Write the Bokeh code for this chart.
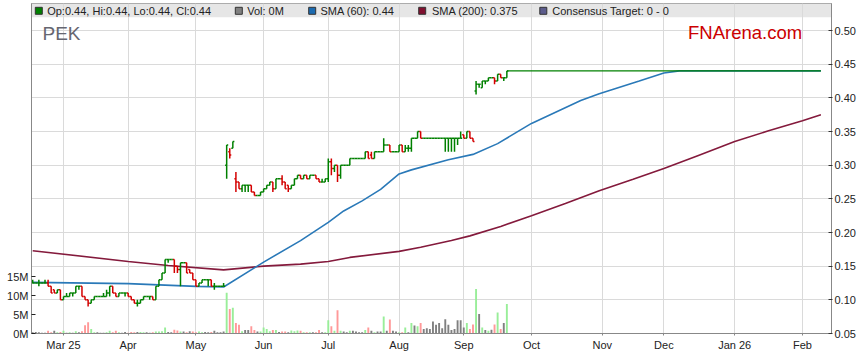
import numpy as np
import pandas as pd
from bokeh.plotting import figure
from bokeh.models import (Range1d, LinearAxis, FixedTicker, ColumnDataSource,
                          Label, PrintfTickFormatter)
from bokeh.embed import file_html
from bokeh.resources import INLINE

# ---------------- data ----------------
calendar = pd.bdate_range("2025-02-17", "2026-02-27")   # trading-day axis (weekdays)

opens = [
    .125, .125, .125, .125, .125, .125, .12, .115, .11, .115,
    .10, .105, .105, .11, .11, .12, .12, .105, .10, .095,
    .10, .105, .105, .105, .105, .11, .12, .11, .105, .11,
    .11, .11, .105, .10, .095, .095, .10, .105, .105, .105,
    .10, .12, .13, .14, .16, .16, .16, .15, .145, .155,
    .155, .145, .14, .13, .12, .125, .13, .13, .13, .12,
    .12, .12, .12, .30, .32, .325, .28, .275, .265, .27,
    .27, .27, .26, .255, .255, .26, .265, .27, .275, .265,
    .28, .28, .275, .27, .265, .27, .28, .285, .28, .285,
    .28, .285, .285, .28, .275, .275, .28, .305, .295, .30,
    .285, .30, .30, .30, .31, .31, .31, .31, .31, .32,
    .315, .31, .32, .32, .32, .33, .33, .32, .32, .32,
    .33, .32, .325, .325, .34, .34, .35, .34, .34, .34,
    .34, .34, .34, .34, .34, .34, .34, .34, .34, .34,
    .345, .34, .35, .34, .41, .42, .415, .425, .425, .43,
    .43, .425, .435, .43, .43]
highs = [
    .13, .125, .13, .125, .13, .13, .12, .115, .115, .115,
    .105, .11, .11, .11, .12, .12, .12, .105, .10, .10,
    .105, .105, .105, .11, .115, .12, .12, .11, .11, .11,
    .11, .11, .105, .10, .10, .10, .105, .105, .105, .105,
    .12, .13, .14, .16, .16, .16, .16, .15, .155, .155,
    .155, .145, .14, .13, .125, .13, .13, .13, .13, .125,
    .12, .12, .125, .33, .325, .335, .29, .275, .27, .27,
    .27, .27, .26, .255, .26, .265, .27, .275, .275, .28,
    .28, .285, .275, .27, .27, .28, .285, .285, .285, .285,
    .285, .285, .285, .28, .28, .28, .31, .31, .30, .30,
    .30, .30, .30, .31, .31, .31, .31, .31, .32, .32,
    .32, .32, .32, .32, .34, .33, .33, .32, .32, .33,
    .33, .33, .33, .34, .34, .35, .35, .34, .34, .34,
    .34, .34, .34, .34, .34, .34, .34, .34, .34, .35,
    .345, .35, .35, .34, .425, .42, .425, .425, .43, .43,
    .43, .435, .435, .43, .44]
lows = [
    .125, .125, .12, .125, .125, .12, .11, .11, .11, .10,
    .10, .105, .105, .105, .11, .115, .105, .10, .09, .095,
    .10, .105, .105, .105, .105, .105, .11, .105, .105, .11,
    .105, .105, .10, .095, .09, .095, .10, .105, .10, .10,
    .10, .12, .13, .14, .155, .16, .14, .14, .12, .155,
    .14, .14, .13, .12, .12, .125, .13, .12, .12, .115,
    .12, .12, .12, .28, .31, .325, .26, .265, .26, .26,
    .26, .26, .255, .255, .255, .26, .265, .27, .26, .265,
    .28, .27, .265, .26, .265, .27, .28, .28, .28, .28,
    .28, .285, .28, .275, .275, .275, .275, .285, .29, .275,
    .28, .30, .30, .30, .31, .31, .31, .31, .31, .31,
    .31, .31, .32, .32, .32, .33, .32, .32, .32, .32,
    .32, .32, .32, .32, .34, .34, .34, .34, .34, .34,
    .34, .34, .34, .34, .32, .32, .32, .32, .33, .34,
    .34, .34, .34, .335, .405, .415, .415, .42, .425, .43,
    .42, .425, .43, .425, .43]
closes = [
    .125, .125, .125, .125, .125, .12, .11, .11, .115, .10,
    .105, .105, .11, .11, .12, .12, .105, .10, .095, .10,
    .105, .105, .105, .105, .11, .12, .11, .105, .11, .11,
    .11, .105, .10, .095, .095, .10, .105, .105, .105, .10,
    .12, .13, .14, .16, .16, .16, .15, .145, .155, .155,
    .14, .14, .13, .12, .125, .13, .13, .13, .12, .12,
    .12, .12, .12, .33, .315, .335, .275, .265, .27, .27,
    .27, .26, .255, .255, .26, .265, .27, .275, .265, .28,
    .28, .275, .265, .265, .27, .28, .285, .28, .285, .28,
    .285, .285, .28, .275, .275, .28, .305, .295, .30, .285,
    .30, .30, .30, .31, .31, .31, .31, .31, .32, .31,
    .31, .32, .32, .32, .33, .33, .32, .32, .32, .33,
    .32, .325, .325, .34, .34, .35, .34, .34, .34, .34,
    .34, .34, .34, .34, .34, .34, .34, .34, .34, .34,
    .34, .35, .34, .335, .42, .42, .425, .425, .43, .43,
    .425, .435, .43, .43, .44]
volumes_m = [
    .3, .4, .3, .2, .2, .7, .3, .7, .3, .4,
    .7, .2, .3, .2, .6, .3, .6, 2.2, 3.0, 1.2,
    .3, .3, .2, .2, .3, .7, .3, .7, .3, .2,
    .4, .2, .4, .3, .4, .4, .3, .3, .2, .3,
    .5, .5, .6, 1.6, .4, .3, 1.0, .8, .5, .5,
    .3, .6, .5, .3, .5, .3, .4, .3, .4, .7,
    .3, .3, .5, 10.8, 6.5, 6.8, 2.8, 2.3, .6, .9,
    .9, 1.9, .9, .5, .5, 1.6, 1.2, .6, .9, .9,
    .4, .5, .5, .3, .8, .6, .8, .7, .3, .3,
    .3, .3, .3, .9, .3, .3, 3.5, 1.9, .7, 6.2,
    .7, .5, .3, .7, .7, .5, .3, .3, .9, 1.6,
    .7, .3, .5, .5, 4.5, .7, 3.7, .7, .5, .3,
    .3, 1.6, .3, 2.8, 2.1, 1.9, 2.8, 1.2, 1.4, 1.2,
    3.2, 2.3, 2.8, 1.4, 3.8, 2.3, .9, 1.2, 3.5, 3.5,
    1.6, 2.8, 1.2, 2.4, 11.8, 5.2, 1.6, .9, .7, 1.0,
    2.4, 5.6, 1.2, 2.8, 7.8]

sma60_dates = ["2025-02-17", "2025-04-01", "2025-05-01", "2025-05-14", "2025-06-02",
               "2025-06-18", "2025-07-01", "2025-07-08", "2025-07-16", "2025-07-24",
               "2025-08-01", "2025-08-07", "2025-08-25", "2025-09-04", "2025-09-16",
               "2025-10-01", "2025-10-23", "2025-10-31", "2025-11-19", "2025-12-01",
               "2025-12-08", "2026-02-10"]
sma60_vals = [0.126, 0.124, 0.120, 0.119, 0.156, 0.188, 0.215, 0.232, 0.247, 0.264,
              0.287, 0.293, 0.308, 0.316, 0.332, 0.362, 0.396, 0.406, 0.425, 0.437,
              0.440, 0.440]
sma200_dates = ["2025-02-17", "2025-04-01", "2025-04-18", "2025-05-14", "2025-06-02",
                "2025-06-18", "2025-07-01", "2025-07-10", "2025-08-01", "2025-08-12",
                "2025-08-26", "2025-09-03", "2025-09-17", "2025-10-01", "2025-10-16",
                "2025-10-31", "2025-11-17", "2025-12-01", "2025-12-16", "2026-01-01",
                "2026-01-16", "2026-02-02", "2026-02-10"]
sma200_vals = [0.173, 0.157, 0.151, 0.1445, 0.150, 0.153, 0.157, 0.163, 0.172, 0.178,
               0.188, 0.195, 0.209, 0.225, 0.243, 0.262, 0.279, 0.295, 0.314, 0.335,
               0.351, 0.366, 0.375]
proj_dates = ["2025-09-19", "2026-02-10"]
proj_vals = [0.44, 0.44]

price_ticks = [0.05, 0.10, 0.15, 0.20, 0.25, 0.30, 0.35, 0.40, 0.45, 0.50]
vol_ticks = [0, 5, 10, 15]
vol_tick_labels = ["0M", "5M", "10M", "15M"]
month_keys = ["2025-03", "2025-04", "2025-05", "2025-06", "2025-07", "2025-08",
              "2025-09", "2025-10", "2025-11", "2025-12", "2026-01", "2026-02"]
month_labels = ["Mar 25", "Apr", "May", "Jun", "Jul", "Aug", "Sep", "Oct", "Nov",
                "Dec", "Jan 26", "Feb"]
legend_texts = ["Op:0.44, Hi:0.44, Lo:0.44, Cl:0.44", "Vol: 0M", "SMA (60): 0.44",
                "SMA (200): 0.375", "Consensus Target: 0 - 0"]
ticker_name = "PEK"
brand = "FNArena.com"

# ---------------- layout / style (page pixels; figure sits at 0,0) ----------------
OFF = 0
W, H = 858, 358
FL, FR, FT, FB = 31, 831, 3, 333          # frame edges in page pixels
X0, X1 = -0.39, 259.44
PX_PER_UNIT = (FB - 30) / 0.45
Y0 = 0.05
Y1 = Y0 + (FB - FT) / PX_PER_UNIT
V1 = (FB - FT) / 3.77

GREEN, RED = "#008000", "#d40000"
VGREEN, VRED, VGRAY = "#99ee99", "#ff9999", "#808080"
BLUE, MAROON = "#2a79b8", "#841a3c"
FONT = "Liberation Sans"


def dx(px):
    return X0 + (px - FL) * (X1 - X0) / (FR - FL)


def dy(py):
    return Y0 + (FB - py) * (Y1 - Y0) / (FB - FT)


def xi(d):
    return int(calendar.get_loc(pd.Timestamp(d)))


n = len(closes)
x = np.arange(n)
bar_col = [GREEN if c >= o else RED for o, c in zip(opens, closes)]
vol_col = []
for k in range(n):
    prev = closes[k - 1] if k > 0 else opens[0]
    vol_col.append(VGREEN if closes[k] > prev else (VRED if closes[k] < prev else VGRAY))

src = ColumnDataSource(dict(x=x, xl=x - 0.5, xr=x + 0.5, o=opens, h=highs, l=lows,
                            c=closes, col=bar_col, v=volumes_m, vcol=vol_col))

p = figure(width=W, height=H, x_range=Range1d(X0, X1), y_range=Range1d(Y0, Y1),
           output_backend="svg", toolbar_location=None, y_axis_location="right",
           min_border_left=FL - OFF, min_border_right=W - (FR - OFF),
           min_border_top=FT - OFF, min_border_bottom=H - (FB - OFF),
           outline_line_color="#999999",
           background_fill_color="white", border_fill_color="white")
p.extra_y_ranges = {"vol": Range1d(0, V1)}

# legend band
band = p.quad(left=[X0], right=[X1], bottom=[dy(16.7)], top=[Y1],
              fill_color="#e6e6e6", line_color=None)
band.level = "image"

# volume
p.vbar(x="x", top="v", bottom=0, width=0.62, y_range_name="vol",
       fill_color="vcol", line_color=None, source=src)

# moving averages and projection
p.line([xi(d) for d in sma200_dates], sma200_vals, line_color=MAROON, line_width=1.6)
p.line([xi(d) for d in sma60_dates], sma60_vals, line_color=BLUE, line_width=1.6)
p.line([xi(d) for d in proj_dates], proj_vals, line_color=GREEN, line_width=1.4)

# OHLC bars
p.segment(x0="x", y0="l", x1="x", y1="h", line_color="col", line_width=1.5, source=src)
p.segment(x0="xl", y0="o", x1="x", y1="o", line_color="col", line_width=1.5, source=src)
p.segment(x0="x", y0="c", x1="xr", y1="c", line_color="col", line_width=1.5, source=src)

# axes
month_idx = [int(np.where(calendar.strftime("%Y-%m") == m)[0][0]) for m in month_keys]
xa = p.xaxis[0]
xa.ticker = FixedTicker(ticks=month_idx)
xa.major_label_overrides = dict(zip(month_idx, month_labels))
xa.axis_line_color = "#888888"
xa.major_tick_in = 0
xa.major_tick_out = 2
xa.major_tick_line_color = "#888888"
xa.minor_tick_line_color = None
xa.major_label_standoff = 3
xa.major_label_text_font = FONT
xa.major_label_text_font_size = "11px"
xa.major_label_text_color = "#222222"

ya = p.yaxis[0]
ya.ticker = FixedTicker(ticks=price_ticks)
ya.formatter = PrintfTickFormatter(format="%.2f")
ya.axis_line_color = "#888888"
ya.major_tick_in = 3
ya.major_tick_out = 1
ya.major_tick_line_color = "#333333"
ya.minor_tick_line_color = None
ya.major_label_standoff = 2
ya.major_label_text_font = FONT
ya.major_label_text_font_size = "11px"
ya.major_label_text_color = "#222222"

va = LinearAxis(y_range_name="vol", ticker=FixedTicker(ticks=vol_ticks),
                major_label_overrides=dict(zip(vol_ticks, vol_tick_labels)))
va.axis_line_color = "#888888"
va.major_tick_in = 4
va.major_tick_out = 0
va.major_tick_line_color = "#222222"
va.minor_tick_line_color = None
va.major_label_standoff = 3
va.major_label_text_font = FONT
va.major_label_text_font_size = "11px"
va.major_label_text_color = "#222222"
p.add_layout(va, "left")

p.xgrid.grid_line_color = "#dadada"
p.ygrid.grid_line_color = "#dadada"

# legend strip
sq_px = [38.3, 238.3, 311.7, 421.7, 542.8]
tx_px = [46.7, 246.7, 320.0, 431.5, 551.7]
sq_cols = [GREEN, VGRAY, "#1c6bb0", "#80102f", "#5c5c8c"]
p.rect(x=[dx(v) for v in sq_px], y=[dy(10.3)] * 5, width=7, height=7,
       width_units="screen", height_units="screen", fill_color=sq_cols,
       line_color="#333333", line_width=1)
for t, px in zip(legend_texts, tx_px):
    p.add_layout(Label(x=dx(px), y=dy(10.6), text=t, text_baseline="middle",
                       text_font=FONT, text_font_size="11px", text_color="#222222"))

p.add_layout(Label(x=dx(42), y=dy(32.5), text=ticker_name, text_baseline="middle",
                   text_font=FONT, text_font_size="19px", text_color="#666670"))
p.add_layout(Label(x=dx(687.5), y=dy(32), text=brand, text_baseline="middle",
                   text_font=FONT, text_font_size="18.5px", text_color="#cc0000"))

open("out.html", "w").write(file_html(p, INLINE))
